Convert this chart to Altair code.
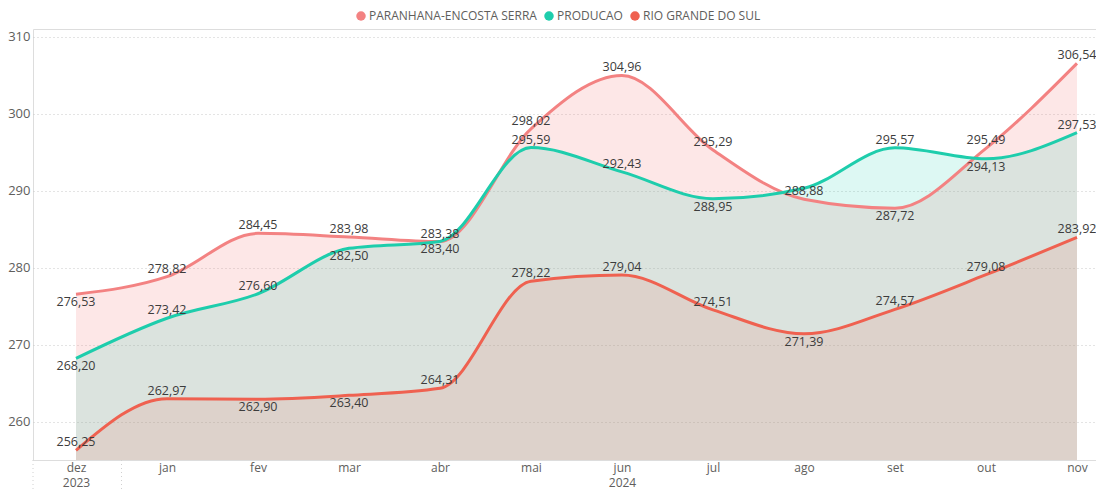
import altair as alt
import pandas as pd

months = ["dez", "jan", "fev", "mar", "abr", "mai", "jun", "jul", "ago", "set", "out", "nov"]
years = ["2023", "", "", "", "", "", "2024", "", "", "", "", ""]
series_names = ["PARANHANA-ENCOSTA SERRA", "PRODUCAO", "RIO GRANDE DO SUL"]
series_colors = ["#F38282", "#1ECDAC", "#EF6150"]
series_fill_opacity = [0.19, 0.15, 0.13]

paranhana = [276.53, 278.82, 284.45, 283.98, 283.38, 298.02, 304.96, 295.29, 288.88, 287.72, 295.49, 306.54]
producao = [268.20, 273.42, 276.60, 282.50, 283.40, 295.59, 292.43, 288.95, 290.30, 295.57, 294.13, 297.53]
rio_grande = [256.25, 262.97, 262.90, 263.40, 264.31, 278.22, 279.04, 274.51, 271.39, 274.57, 279.08, 283.92]

# data label placement: a = above, b = below, n = hidden
paranhana_pos = ["b", "a", "a", "a", "a", "a", "a", "a", "a", "b", "a", "a"]
producao_pos = ["b", "a", "a", "b", "b", "a", "a", "b", "n", "a", "b", "a"]
rio_grande_pos = ["a", "a", "b", "b", "a", "a", "a", "a", "b", "a", "a", "a"]

y_ticks = [260, 270, 280, 290, 300, 310]
y_base = 255

rows = []
for name, vals, pos in zip(series_names, [paranhana, producao, rio_grande],
                           [paranhana_pos, producao_pos, rio_grande_pos]):
    for i, (v, p) in enumerate(zip(vals, pos)):
        rows.append({"idx": i, "month": months[i], "series": name, "value": v, "base": y_base,
                     "pos": p, "label": f"{v:.2f}".replace(".", ",")})
df = pd.DataFrame(rows)

FONT = "Open Sans"
W, H = 1063, 431

month_js = "[" + ",".join(f"'{m}'" for m in months) + "]"
year_js = "[" + ",".join(f"'{y}'" for y in years) + "]"

xscale = alt.Scale(domain=[-0.4725, 11.209], nice=False, zero=False)
yscale = alt.Scale(domain=[255, 311], nice=False, zero=False)
cscale = alt.Scale(domain=series_names, range=series_colors)

x_enc = alt.X("idx:Q", scale=xscale,
              axis=alt.Axis(values=list(range(12)), grid=False, ticks=False, domain=False,
                            title=None, labelExpr=f"[{month_js}[datum.value], {year_js}[datum.value]]",
                            labelFont=FONT, labelFontSize=12, labelColor="#605E5C",
                            labelPadding=2, labelLineHeight=15, labelBaseline="top"))
y_enc = alt.Y("value:Q", scale=yscale, stack=None,
              axis=alt.Axis(values=y_ticks, grid=True, gridDash=[1, 3], gridColor="#C8C8C8",
                            ticks=False, domain=False, title=None, labelFont=FONT,
                            labelFontSize=13, labelColor="#605E5C", labelPadding=3))
legend = alt.Legend(orient="none", legendX=322, legendY=-19, direction="horizontal",
                    title=None, symbolType="circle", symbolSize=90,
                    symbolOpacity=1, symbolStrokeWidth=0,
                    labelFont=FONT, labelFontSize=12, labelColor="#605E5C",
                    labelLimit=400, labelOffset=2, columnPadding=6)

base = alt.Chart(df)

area_layers = []
for name, op in zip(series_names, series_fill_opacity):
    area_layers.append(
        base.transform_filter(alt.datum.series == name)
        .mark_area(interpolate="monotone", fillOpacity=op)
        .encode(x=x_enc, y=y_enc, y2="base:Q",
                color=alt.Color("series:N", scale=cscale, sort=series_names, legend=legend))
    )

lines = base.mark_line(interpolate="monotone", strokeWidth=3).encode(
    x=alt.X("idx:Q", scale=xscale), y=alt.Y("value:Q", scale=yscale, stack=None),
    color=alt.Color("series:N", scale=cscale, sort=series_names, legend=None),
    order=alt.Order("idx:Q"),
)

txt_common = dict(font=FONT, fontSize=12.5, color="#3C3C3C", baseline="middle", align="center")
above = base.transform_filter(alt.datum.pos == "a").mark_text(dy=-8, **txt_common).encode(
    x=alt.X("idx:Q", scale=xscale), y=alt.Y("value:Q", scale=yscale), text="label:N")
below = base.transform_filter(alt.datum.pos == "b").mark_text(dy=8, **txt_common).encode(
    x=alt.X("idx:Q", scale=xscale), y=alt.Y("value:Q", scale=yscale), text="label:N")

sep = pd.DataFrame({"xs": [-0.4725, 0.5]})
seps = alt.Chart(sep).mark_rule(color="#D0D0D0", strokeDash=[1, 3], strokeWidth=1).encode(
    x=alt.X("xs:Q", scale=xscale), y=alt.value(H), y2=alt.value(H + 40))

chart = alt.layer(*area_layers, lines, above, below, seps).properties(
    width=W, height=H,
    autosize=alt.AutoSizeParams(type="none"),
    padding={"left": 25, "top": 21, "right": 0, "bottom": 30},
).configure_view(stroke=None).configure(background="white")

chart.save("out.html", embed_options={"renderer": "svg", "actions": False})
